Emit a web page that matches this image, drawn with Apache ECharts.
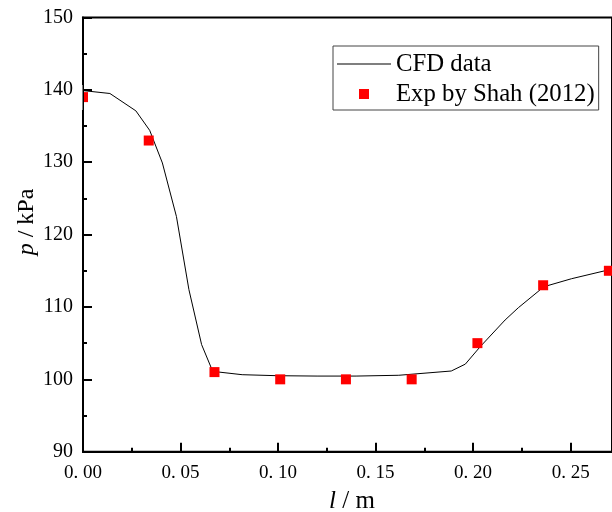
<!DOCTYPE html>
<html>
<head>
<meta charset="utf-8">
<script src="https://cdn.jsdelivr.net/npm/echarts@6/dist/echarts.min.js"></script>
<style>html,body{margin:0;padding:0;background:#fff}#c{width:612px;height:512px}</style>
</head>
<body>
<div id="c"></div>
<script>
// CFD data (x in m, p in kPa)
const cfdX = [0.0, 0.0138, 0.0271, 0.0342, 0.0407, 0.0479, 0.0543, 0.0608, 0.0665, 0.0816, 0.0997, 0.12, 0.14, 0.1619, 0.1888, 0.1960, 0.2036, 0.2164, 0.2232, 0.2363, 0.2504, 0.2675];
const cfdP = [139.9, 139.5, 137.1, 134.4, 129.9, 122.5, 112.4, 104.8, 101.1, 100.64, 100.5, 100.45, 100.45, 100.56, 101.15, 102.1, 104.5, 108.2, 109.9, 112.8, 113.9, 115.0];
// Experimental data, Shah (2012)
const expX = [0.0, 0.0337, 0.0674, 0.1011, 0.1348, 0.1685, 0.2022, 0.2359, 0.2696];
const expP = [139, 133, 101, 100, 100, 100, 105, 113, 115];
const yTicks = [90, 100, 110, 120, 130, 140, 150];

const serif = 'Liberation Serif';
const chart = echarts.init(document.getElementById('c'), null, {renderer: 'canvas'});
chart.setOption({
  animation: false,
  backgroundColor: '#fff',
  grid: {left: 83, top: 17.5, right: -2, bottom: 60.3, show: true, borderColor: '#000', borderWidth: 2, backgroundColor: 'transparent'},
  legend: {
    left: 333, top: 46, orient: 'vertical',
    itemWidth: 54, itemHeight: 10, itemGap: 4,
    padding: [5, 4, 3, 4],
    borderColor: '#444', borderWidth: 1, backgroundColor: '#fff',
    textStyle: {fontFamily: serif, fontSize: 24.75, color: '#000', lineHeight: 26},
    data: [
      {name: 'CFD data', icon: 'path://M0,0H54V1H0Z'},
      {name: 'Exp by Shah (2012)', icon: 'path://M0,0H10V10H0Z'}
    ]
  },
  xAxis: {
    type: 'value', min: 0, max: 0.2712, interval: 0.05, z: 10,
    axisLine: {show: true, onZero: false, lineStyle: {color: '#000', width: 2}},
    axisTick: {show: true, inside: true, length: 9, lineStyle: {color: '#000', width: 2}},
    minorTick: {show: true, splitNumber: 2, length: 4, lineStyle: {color: '#000', width: 2}},
    splitLine: {show: false},
    axisLabel: {margin: 12, fontFamily: serif, fontSize: 19, color: '#000', showMaxLabel: false,
      formatter: v => v.toFixed(2).replace('.', '. ')}
  },
  yAxis: {
    type: 'value', min: yTicks[0], max: yTicks[yTicks.length - 1], interval: 10, z: 10,
    axisLine: {show: true, onZero: false, lineStyle: {color: '#000', width: 2}},
    axisTick: {show: true, inside: true, length: 9, lineStyle: {color: '#000', width: 2}},
    minorTick: {show: true, splitNumber: 2, length: 4, lineStyle: {color: '#000', width: 2}},
    splitLine: {show: false},
    axisLabel: {margin: 10, fontFamily: serif, fontSize: 20, color: '#000'}
  },
  graphic: [
    {type: 'rect', z: 50, shape: {x: 75, y: 85, width: 7.5, height: 25}, style: {fill: '#fff'}},
    {type: 'text', z: 60, x: 352, y: 501, style: {
      text: '{i|l} / m', fontFamily: serif, fontSize: 25, fill: '#000', align: 'center', verticalAlign: 'middle',
      rich: {i: {fontStyle: 'italic', fontFamily: serif, fontSize: 25}}}},
    {type: 'text', z: 60, x: 27, y: 222, rotation: Math.PI / 2, style: {
      text: '{i|p} / kPa', fontFamily: serif, fontSize: 24, fill: '#000', align: 'center', verticalAlign: 'middle',
      rich: {i: {fontStyle: 'italic', fontFamily: serif, fontSize: 24}}}}
  ],
  series: [
    {name: 'CFD data', type: 'line', symbol: 'none', smooth: false,
      lineStyle: {color: '#000', width: 1}, itemStyle: {color: '#000'},
      data: cfdX.map((x, i) => [x, cfdP[i]]), z: 2},
    {name: 'Exp by Shah (2012)', type: 'scatter', symbol: 'rect', symbolSize: 10,
      itemStyle: {color: '#ff0000', opacity: 1},
      data: expX.map((x, i) => [x, expP[i]]), z: 3}
  ]
});
</script>
</body>
</html>
